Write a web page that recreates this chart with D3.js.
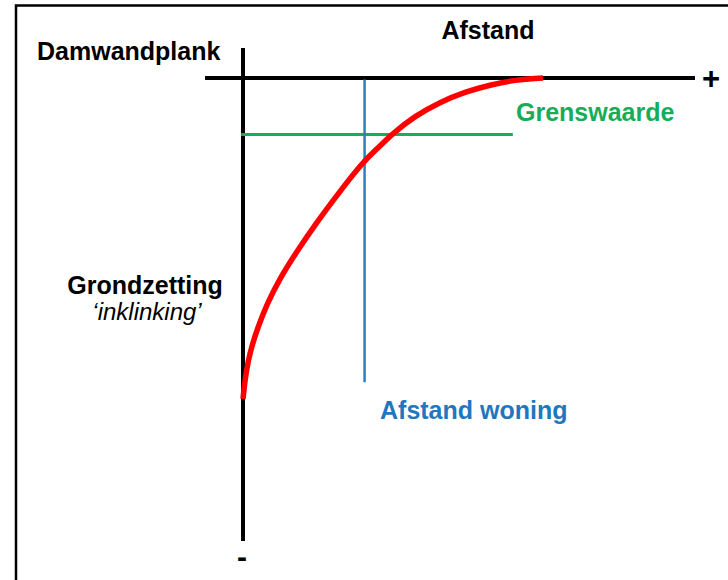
<!DOCTYPE html>
<html lang="nl">
<head>
<meta charset="utf-8">
<style>
body {
  margin: 0;
  background: #fff;
  font-family: "Liberation Sans", Arial, Helvetica, sans-serif;
}
svg { display: block; }
.lbl { font-weight: bold; }
</style>
</head>
<body>
<script src="https://cdn.jsdelivr.net/npm/d3@7"></script>
<script>

var width = 728,
    height = 580;

// afstand (x) vs grondzetting (y), arbitrary units, 0 = damwandplank / maaiveld
var afstand = [0, 0.44, 1.11, 1.99, 3.32, 5.31, 8.19, 11.95, 16.37, 20.8, 26.55, 29.87, 32.96, 38.05, 43.58, 49.12, 54.65, 60.18, 66.37];
var zetting = [69.3, 65.2, 61.3, 57.7, 53.8, 48.8, 43.2, 37.4, 31.1, 25.3, 18.1, 15.1, 12.1, 8.2, 5.2, 3.0, 1.5, 0.4, 0];

var grenswaarde = 12.2;       // toelaatbare zetting
var grensTot = 59.7;          // lengte van de grenslijn
var afstandWoning = 26.9;     // positie woning
var woningDiepte = 65.7;

var xAxisExtent = [-8.4, 100];
var yAxisExtent = [-6.5, 100];

var x = d3.scaleLinear()
    .domain([0, 100])
    .range([243, 695]);

var y = d3.scaleLinear()
    .domain([0, 100])
    .range([78, 541]);

var svg = d3.select("body").append("svg")
    .attr("width", width)
    .attr("height", height);

// frame (only top and left visible)
svg.append("rect")
    .attr("x", 16)
    .attr("y", 5.5)
    .attr("width", 800)
    .attr("height", 700)
    .attr("fill", "none")
    .attr("stroke", "#000")
    .attr("stroke-width", 2.5);

// axes
svg.append("line")
    .attr("x1", x(xAxisExtent[0])).attr("x2", x(xAxisExtent[1]))
    .attr("y1", y(0)).attr("y2", y(0))
    .attr("stroke", "#000")
    .attr("stroke-width", 4);

svg.append("line")
    .attr("x1", x(0)).attr("x2", x(0))
    .attr("y1", y(yAxisExtent[0])).attr("y2", y(yAxisExtent[1]))
    .attr("stroke", "#000")
    .attr("stroke-width", 4);

// grenswaarde
svg.append("line")
    .attr("x1", x(-0.4)).attr("x2", x(grensTot))
    .attr("y1", y(grenswaarde)).attr("y2", y(grenswaarde))
    .attr("stroke", "#1aab5c")
    .attr("stroke-width", 3);

// afstand woning
svg.append("line")
    .attr("x1", x(afstandWoning)).attr("x2", x(afstandWoning))
    .attr("y1", y(0.3)).attr("y2", y(woningDiepte))
    .attr("stroke", "#2a7fc4")
    .attr("stroke-width", 2.5);

// zettingscurve
var line = d3.line()
    .x(function(d) { return x(d[0]); })
    .y(function(d) { return y(d[1]); })
    .curve(d3.curveBasis);

svg.append("path")
    .datum(d3.zip(afstand, zetting))
    .attr("d", line)
    .attr("fill", "none")
    .attr("stroke", "#ff0000")
    .attr("stroke-width", 5.5)
    .attr("stroke-linecap", "butt");

// labels
function label(txt, px, py, opts) {
  opts = opts || {};
  return svg.append("text")
      .attr("class", opts.italic ? null : "lbl")
      .attr("x", px)
      .attr("y", py)
      .attr("text-anchor", opts.anchor || "start")
      .attr("fill", opts.color || "#000")
      .style("font-size", (opts.size || 25) + "px")
      .style("font-style", opts.italic ? "italic" : null)
      .text(txt);
}

label("Damwandplank", 37, 60);
label("Afstand", 488, 39, {anchor: "middle"});
label("Grenswaarde", 516, 121, {color: "#17ad58"});
label("Grondzetting", 145, 294, {anchor: "middle"});
label("\u2018inklinking\u2019", 147, 320, {anchor: "middle", italic: true, size: 24});
label("Afstand woning", 380, 419, {color: "#1f77c0"});
label("+", 711, 89, {anchor: "middle", size: 31});
label("-", 242, 567, {anchor: "middle", size: 30});

</script>
</body>
</html>
